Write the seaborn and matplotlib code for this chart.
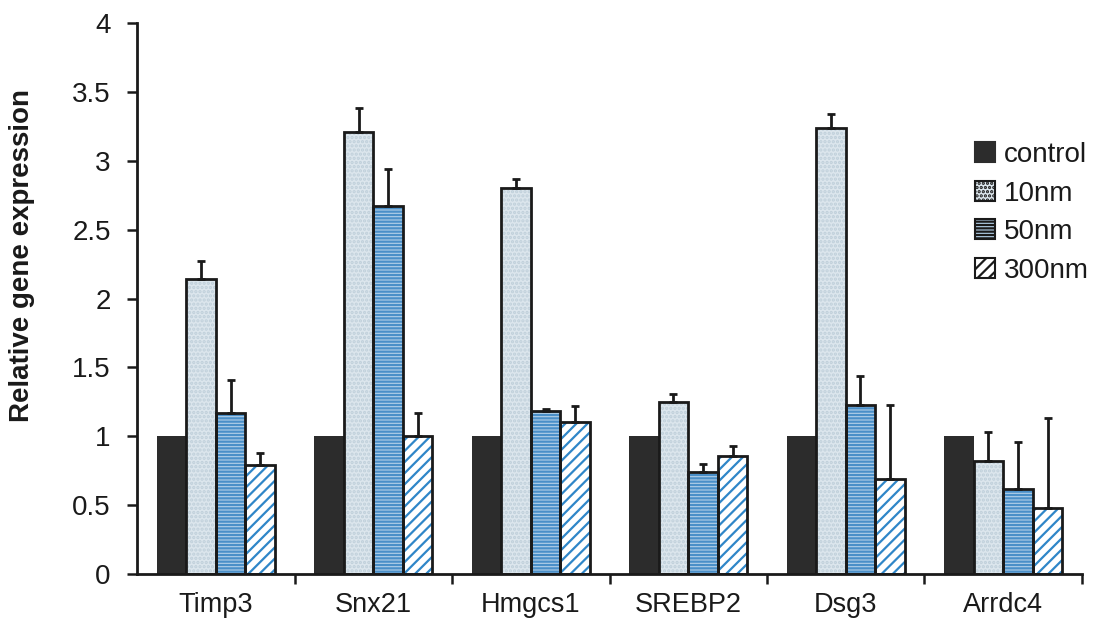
import numpy as np
import pandas as pd
import matplotlib
matplotlib.use("Agg")
import matplotlib.pyplot as plt
from matplotlib.patches import Rectangle, Patch
from matplotlib.ticker import MultipleLocator, FixedLocator, FuncFormatter
import seaborn as sns

genes = ["Timp3", "Snx21", "Hmgcs1", "SREBP2", "Dsg3", "Arrdc4"]
groups = ["control", "10nm", "50nm", "300nm"]
control = [1.0, 1.0, 1.0, 1.0, 1.0, 1.0]
nm10 = [2.14, 3.21, 2.80, 1.25, 3.24, 0.82]
nm50 = [1.17, 2.67, 1.18, 0.74, 1.23, 0.62]
nm300 = [0.79, 1.00, 1.10, 0.86, 0.69, 0.48]
err_control = [0, 0, 0, 0, 0, 0]
err10 = [0.13, 0.17, 0.07, 0.06, 0.10, 0.21]
err50 = [0.24, 0.27, 0.02, 0.06, 0.21, 0.34]
err300 = [0.09, 0.17, 0.12, 0.07, 0.54, 0.65]

values = [control, nm10, nm50, nm300]
errors = [err_control, err10, err50, err300]

rows = []
for g, vals in zip(groups, values):
    for gene, v in zip(genes, vals):
        rows.append({"gene": gene, "group": g, "value": v})
df = pd.DataFrame(rows)

sns.set_theme(style="white")
plt.rcParams["font.family"] = ["Liberation Sans", "DejaVu Sans"]
plt.rcParams["hatch.linewidth"] = 1.6

INK = "#1a1a1a"

fig = plt.figure(figsize=(10.99, 6.29), dpi=100)
ax = fig.add_axes([0.1247, 0.0874, 0.8598, 0.876])

sns.barplot(data=df, x="gene", y="value", hue="group", order=genes,
            hue_order=groups, width=0.75, errorbar=None, ax=ax, legend=False)

styles = {
    "control": dict(face="#2c2c2c", hatch=None, hcol="#2c2c2c", outline=False),
    "10nm": dict(face="#dce6ed", hatch="....", hcol="#bfcfda", outline=True),
    "50nm": dict(face="#b3d0e8", hatch="-----", hcol="#4a8fc8", outline=True),
    "300nm": dict(face="white", hatch="///", hcol="#2f86c8", outline=True),
}

handles = []
for cont, g, errs in zip(ax.containers, groups, errors):
    st = styles[g]
    xs, tops = [], []
    for p in cont.patches:
        p.set_facecolor(st["face"])
        p.set_edgecolor(st["hcol"])
        p.set_linewidth(0)
        if st["hatch"]:
            p.set_hatch(st["hatch"])
        if st["outline"]:
            ax.add_patch(Rectangle(p.get_xy(), p.get_width(), p.get_height(),
                                   fill=False, edgecolor=INK, linewidth=2.0, zorder=3))
        xs.append(p.get_x() + p.get_width() / 2)
        tops.append(p.get_height())
    if any(e > 0 for e in errs):
        ax.errorbar(xs, tops, yerr=[np.zeros(len(errs)), errs], fmt="none",
                    ecolor=INK, elinewidth=2.0, capsize=3, capthick=2.0, zorder=4)
    handles.append(Patch(facecolor=st["face"], hatch=st["hatch"],
                         edgecolor=INK if st["outline"] else st["face"],
                         linewidth=1.5))

ax.set_ylim(0, 4)
ax.set_xlim(-0.5, 5.5)
ax.yaxis.set_major_locator(MultipleLocator(0.5))
ax.yaxis.set_major_formatter(FuncFormatter(lambda v, pos: f"{v:g}"))
ax.xaxis.set_minor_locator(FixedLocator(np.arange(0.5, 5.6, 1.0)))

for s in ["top", "right"]:
    ax.spines[s].set_visible(False)
for s in ["left", "bottom"]:
    ax.spines[s].set_color(INK)
    ax.spines[s].set_linewidth(2.0)

ax.tick_params(axis="y", which="major", direction="out", length=7, width=1.8,
               left=True, labelsize=20, pad=12, colors=INK)
ax.tick_params(axis="x", which="major", length=0, labelsize=19.5, pad=13, colors=INK)
ax.tick_params(axis="x", which="minor", direction="out", length=7, width=1.8, bottom=True,
               colors=INK)

ax.set_xlabel("")
ax.set_ylabel("Relative gene expression", fontsize=20, fontweight="bold", color=INK)
ax.yaxis.set_label_coords(-0.108, 0.578)

leg = ax.legend(handles, groups, loc="upper left", bbox_to_anchor=(0.887, 0.784),
                frameon=False, fontsize=20, handlelength=0.72, handleheight=0.72,
                handletextpad=0.3, labelspacing=0.45, borderaxespad=0, borderpad=0)
for t in leg.get_texts():
    t.set_color(INK)

fig.savefig("out.png", dpi=100, facecolor="white")
